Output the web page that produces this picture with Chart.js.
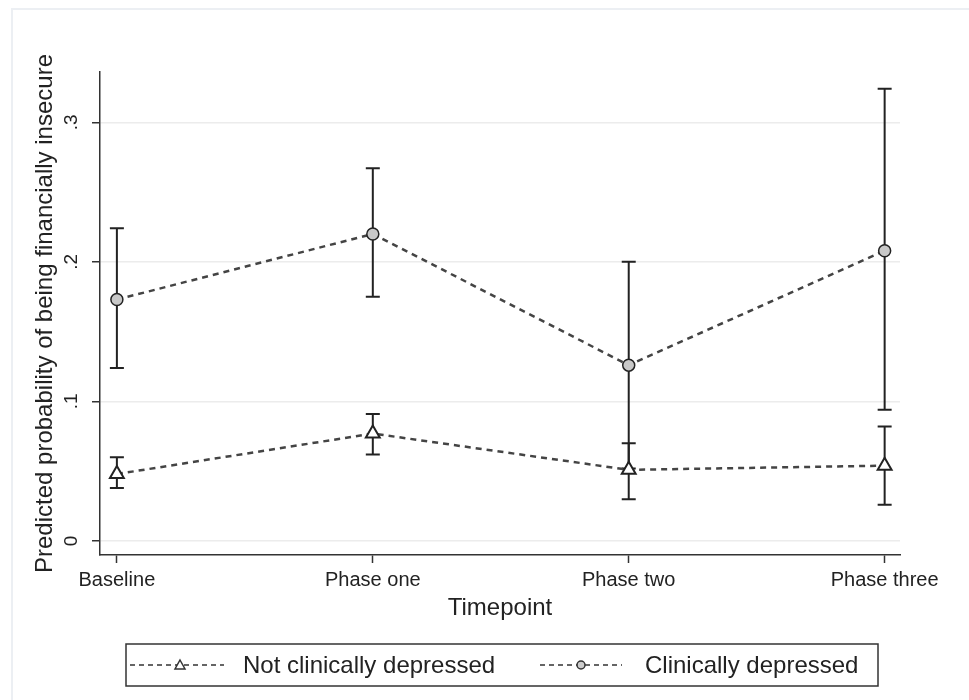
<!DOCTYPE html>
<html>
<head>
<meta charset="utf-8">
<script src="https://cdn.jsdelivr.net/npm/chart.js@4.4.0/dist/chart.umd.min.js"></script>
<style>
  html, body { margin: 0; padding: 0; background: #fff; }
  #wrap { width: 969px; height: 700px; position: relative; }
</style>
</head>
<body>
<div id="wrap"><canvas id="chart"></canvas></div>
<script>
  // data
  var timepoints = ['Baseline', 'Phase one', 'Phase two', 'Phase three'];
  var yTicks = [0, 0.1, 0.2, 0.3];
  var yTickLabels = ['0', '.1', '.2', '.3'];

  var notDepressed = [0.048, 0.077, 0.051, 0.054];
  var notDepressedLo = [0.038, 0.062, 0.030, 0.026];
  var notDepressedHi = [0.060, 0.091, 0.070, 0.082];

  var depressed = [0.173, 0.220, 0.126, 0.208];
  var depressedLo = [0.124, 0.175, 0.052, 0.094];
  var depressedHi = [0.224, 0.267, 0.200, 0.324];

  var seriesNames = ['Not clinically depressed', 'Clinically depressed'];

  var FONT = '"Liberation Sans", Arial, sans-serif';
  var INK = '#222';

  function toPoints(vals) {
    return vals.map(function (v, i) { return { x: i, y: v }; });
  }

  var errorBars = {
    id: 'errorBars',
    beforeDatasetsDraw: function (chart) {
      var ctx = chart.ctx, xs = chart.scales.x, ys = chart.scales.y;
      var sets = [[notDepressedLo, notDepressedHi], [depressedLo, depressedHi]];
      ctx.save();
      ctx.strokeStyle = INK;
      ctx.lineWidth = 2;
      sets.forEach(function (s) {
        for (var i = 0; i < timepoints.length; i++) {
          var x = xs.getPixelForValue(i);
          var y1 = ys.getPixelForValue(s[0][i]);
          var y2 = ys.getPixelForValue(s[1][i]);
          ctx.beginPath();
          ctx.moveTo(x, y1); ctx.lineTo(x, y2);
          ctx.moveTo(x - 7, y1); ctx.lineTo(x + 7, y1);
          ctx.moveTo(x - 7, y2); ctx.lineTo(x + 7, y2);
          ctx.stroke();
        }
      });
      ctx.restore();
    }
  };

  var extras = {
    id: 'extras',
    beforeDraw: function (chart) {
      var ctx = chart.ctx;
      ctx.save();
      ctx.strokeStyle = '#eceff3';
      ctx.lineWidth = 2;
      ctx.strokeRect(12, 9, 970, 700);
      ctx.restore();
    },
    afterDraw: function (chart) {
      var ctx = chart.ctx, ys = chart.scales.y;
      ctx.save();
      // rotated y tick labels
      ctx.fillStyle = INK;
      ctx.font = '19px ' + FONT;
      ctx.textAlign = 'center';
      ctx.textBaseline = 'middle';
      yTicks.forEach(function (v, i) {
        ctx.save();
        ctx.translate(72, ys.getPixelForValue(v));
        ctx.rotate(-Math.PI / 2);
        ctx.fillText(yTickLabels[i], 0, 0);
        ctx.restore();
      });

      // legend box
      var cy = 665;
      ctx.strokeStyle = '#333';
      ctx.lineWidth = 1.5;
      ctx.strokeRect(126, 644, 752, 42);

      ctx.setLineDash([5, 4]);
      ctx.lineWidth = 1.5;
      ctx.beginPath();
      ctx.moveTo(130, cy); ctx.lineTo(224, cy);
      ctx.moveTo(540, cy); ctx.lineTo(622, cy);
      ctx.stroke();
      ctx.setLineDash([]);

      // triangle sample
      ctx.fillStyle = '#fff';
      ctx.beginPath();
      ctx.moveTo(180, cy - 5); ctx.lineTo(185, cy + 4); ctx.lineTo(175, cy + 4);
      ctx.closePath();
      ctx.fill(); ctx.stroke();
      // circle sample
      ctx.fillStyle = '#ccc';
      ctx.beginPath();
      ctx.arc(581, cy, 4, 0, Math.PI * 2);
      ctx.fill(); ctx.stroke();

      ctx.fillStyle = INK;
      ctx.font = '24px ' + FONT;
      ctx.textAlign = 'left';
      ctx.fillText(seriesNames[0], 243, cy + 1);
      ctx.fillText(seriesNames[1], 645, cy + 1);
      ctx.restore();
    }
  };

  new Chart(document.getElementById('chart').getContext('2d'), {
    type: 'line',
    data: {
      datasets: [{
        label: seriesNames[0],
        data: toPoints(notDepressed),
        borderColor: '#444',
        borderWidth: 2.5,
        borderDash: [6, 5],
        pointStyle: 'triangle',
        pointRadius: 8,
        pointBackgroundColor: '#fff',
        pointBorderColor: INK,
        pointBorderWidth: 2,
        tension: 0
      }, {
        label: seriesNames[1],
        data: toPoints(depressed),
        borderColor: '#444',
        borderWidth: 2.5,
        borderDash: [6, 5],
        pointStyle: 'circle',
        pointRadius: 6,
        pointBackgroundColor: '#c8c8c8',
        pointBorderColor: INK,
        pointBorderWidth: 1.5,
        tension: 0
      }]
    },
    options: {
      responsive: true,
      maintainAspectRatio: false,
      animation: false,
      layout: { padding: { left: 0, top: 72, right: 69, bottom: 75 } },
      plugins: { legend: { display: false }, tooltip: { enabled: false } },
      scales: {
        x: {
          type: 'linear',
          min: -0.066,
          max: 3.06,
          afterBuildTicks: function (scale) {
            scale.ticks = timepoints.map(function (t, i) { return { value: i }; });
          },
          afterFit: function (scale) { scale.height = 70; },
          ticks: {
            color: INK,
            padding: 5,
            maxRotation: 0,
            autoSkip: false,
            font: { family: FONT, size: 20 },
            callback: function (v) { return timepoints[v]; }
          },
          grid: { drawOnChartArea: false, tickLength: 8, tickColor: '#333', tickWidth: 1.5 },
          border: { color: '#333', width: 1.5 },
          title: {
            display: true,
            text: 'Timepoint',
            color: INK,
            font: { family: FONT, size: 24 },
            padding: { top: 0, bottom: 2 }
          }
        },
        y: {
          min: -0.010,
          max: 0.336,
          afterBuildTicks: function (scale) {
            scale.ticks = yTicks.map(function (v) { return { value: v }; });
          },
          afterFit: function (scale) { scale.width = 100; },
          ticks: { display: false },
          grid: { color: '#ececec', lineWidth: 1.5, tickLength: 8, tickColor: '#333', tickWidth: 1.5 },
          border: { color: '#333', width: 1.5 },
          title: {
            display: true,
            text: 'Predicted probability of being financially insecure',
            color: INK,
            font: { family: FONT, size: 24 },
            padding: { top: 31, bottom: 0 }
          }
        }
      }
    },
    plugins: [errorBars, extras]
  });
</script>
</body>
</html>
